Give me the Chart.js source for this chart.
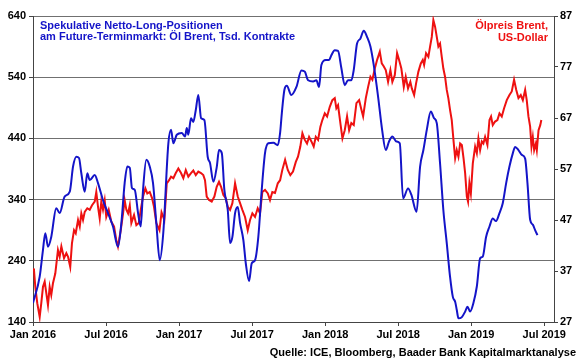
<!DOCTYPE html>
<html>
<head>
<meta charset="utf-8">
<script src="https://cdn.jsdelivr.net/npm/chart.js@4.4.1/dist/chart.umd.min.js"></script>
<style>
  html, body { margin: 0; padding: 0; background: #fff; }
  #wrap { width: 580px; height: 359px; }
</style>
</head>
<body>
<div id="wrap"><canvas id="chart" width="580" height="359"></canvas></div>
<script>
// x values are months since Jan 2016
var xTickMonths = [0, 6, 12, 18, 24, 30, 36, 42];
var xTickLabels = ["Jan 2016", "Jul 2016", "Jan 2017", "Jul 2017", "Jan 2018", "Jul 2018", "Jan 2019", "Jul 2019"];

// Spekulative Netto-Long-Positionen, Tsd. Kontrakte (left axis)
var blueMonths = [
  0.00, 0.55, 0.82, 1.01, 1.23, 1.50, 1.91, 2.19, 2.60, 3.02, 3.29, 3.56, 3.78, 3.97, 4.25, 4.46, 4.66, 5.07,
  5.34, 5.75, 6.16, 6.57, 6.98, 7.26, 7.53, 7.75, 7.95, 8.13, 8.36, 8.63, 8.85, 9.04, 9.31, 9.59, 9.86, 10.13,
  10.41, 10.70, 11.12, 11.34, 11.53, 11.81, 12.22, 12.49, 12.63, 12.76, 12.98, 13.17, 13.37, 13.58, 13.81, 14.08,
  14.35, 14.54, 14.82, 15.10, 15.28, 15.51, 15.72, 16.00, 16.19, 16.38, 16.60, 16.82, 17.01, 17.28, 17.48, 17.75,
  17.97, 18.24, 18.51, 18.79, 19.06, 19.33, 19.75, 20.11, 20.30, 20.44, 20.65, 20.85, 21.22, 21.64, 22.05, 22.33,
  22.60, 23.01, 23.28, 23.50, 23.69, 24.05, 24.32, 24.51, 24.79, 25.06, 25.33, 25.61, 25.88, 26.15, 26.35, 26.62,
  26.89, 27.17, 27.44, 27.72, 27.99, 28.35, 28.68, 28.98, 29.25, 29.52, 29.85, 30.13, 30.40, 30.81, 31.08, 31.51,
  31.80, 32.07, 32.35, 32.68, 32.95, 33.17, 33.44, 33.71, 33.99, 34.26, 34.49, 34.68, 34.81, 34.95, 35.23, 35.50,
  35.69, 35.91, 36.18, 36.46, 36.73, 36.95, 37.22, 37.50, 37.77, 38.04, 38.32, 38.59, 38.87, 39.14, 39.42, 39.61,
  39.88, 40.16, 40.43, 40.62, 40.84, 41.06, 41.25, 41.44
];
var bluePositions = [
  171, 214, 258, 285, 263, 279, 326, 318, 345, 353, 394, 410, 408, 383, 353, 383, 372, 380,
  367, 339, 318, 296, 263, 302, 367, 394, 392, 359, 356, 318, 296, 356, 405, 394, 367, 302,
  241, 285, 432, 454, 432, 446, 449, 443, 457, 446, 473, 467, 486, 511, 473, 470,
  410, 400, 369, 394, 421, 416, 356, 323, 269, 279, 318, 328, 302, 274, 236, 207,
  236, 241, 279, 356, 416, 432, 433, 429, 449, 481, 519, 526, 511, 524, 551, 549,
  535, 533, 535, 524, 560, 568, 568, 576, 584, 583, 555, 527, 535, 535, 552, 595,
  603, 616, 606, 590, 560, 508, 454, 421, 435, 443, 435, 432, 342, 358, 348, 320,
  394, 421, 454, 484, 473, 465, 399, 323, 269, 214, 181, 173, 160, 146, 148, 157,
  165, 157, 171, 198, 244, 247, 279, 296, 309, 305, 318, 334, 367, 394, 416, 426,
  421, 413, 407, 367, 307, 299, 290, 282
];

// Ölpreis Brent, US-Dollar (right axis)
var redMonths = [
  0.00, 0.08, 0.19, 0.35, 0.55, 0.68, 0.82, 0.96, 1.09, 1.23, 1.37, 1.50, 1.64, 1.83, 2.05, 2.19, 2.33, 2.55,
  2.74, 2.88, 3.06, 3.20, 3.37, 3.51, 3.70, 3.84, 3.97, 4.11, 4.25, 4.46, 4.66, 4.85, 5.07, 5.20, 5.34, 5.48,
  5.61, 5.75, 5.89, 6.02, 6.22, 6.43, 6.66, 6.84, 6.98, 7.21, 7.40, 7.53, 7.67, 7.81, 7.95, 8.08, 8.30, 8.49,
  8.69, 8.85, 9.04, 9.23, 9.39, 9.59, 9.78, 9.94, 10.13, 10.39, 10.56, 10.79, 10.99, 11.18, 11.34, 11.53, 11.73,
  11.94, 12.16, 12.35, 12.55, 12.76, 12.98, 13.17, 13.37, 13.58, 13.80, 13.99, 14.13, 14.27, 14.46, 14.68, 14.90,
  15.09, 15.28, 15.45, 15.64, 15.83, 16.00, 16.19, 16.38, 16.60, 16.82, 17.01, 17.20, 17.42, 17.64, 17.83, 18.02,
  18.24, 18.46, 18.65, 18.84, 19.06, 19.29, 19.47, 19.66, 19.88, 20.11, 20.30, 20.48, 20.71, 20.93, 21.14, 21.36,
  21.59, 21.77, 21.96, 22.13, 22.33, 22.51, 22.68, 22.87, 23.06, 23.23, 23.42, 23.61, 23.77, 23.97, 24.16, 24.38,
  24.59, 24.79, 24.92, 25.06, 25.25, 25.42, 25.61, 25.80, 25.97, 26.15, 26.35, 26.57, 26.79, 26.98, 27.12, 27.34,
  27.53, 27.72, 27.88, 28.08, 28.27, 28.49, 28.65, 28.82, 28.98, 29.17, 29.36, 29.52, 29.72, 29.91, 30.07, 30.26,
  30.46, 30.62, 30.81, 31.00, 31.12, 31.31, 31.47, 31.66, 31.86, 32.02, 32.13, 32.29, 32.48, 32.62, 32.76, 32.89,
  33.03, 33.17, 33.30, 33.44, 33.58, 33.71, 33.85, 33.99, 34.12, 34.26, 34.40, 34.54, 34.68, 34.81, 34.95, 35.09,
  35.23, 35.37, 35.50, 35.64, 35.74, 35.85, 35.97, 36.13, 36.32, 36.46, 36.59, 36.73, 36.87, 37.00, 37.14, 37.33,
  37.50, 37.63, 37.77, 37.96, 38.15, 38.32, 38.51, 38.70, 38.92, 39.14, 39.33, 39.52, 39.70, 39.88, 40.07, 40.24,
  40.43, 40.56, 40.70, 40.84, 40.95, 41.06, 41.17, 41.31, 41.39, 41.53, 41.67, 41.76
];
var redPrice = [
  37.5, 37.2, 33.9, 30.7, 28.0, 30.7, 33.9, 34.9, 32.7, 30.3, 33.9, 32.3, 34.6, 36.5, 41.1, 39.8, 41.8, 39.5,
  40.5, 39.8, 37.8, 42.4, 45.0, 44.4, 47.0, 45.7, 48.3, 47.0, 48.6, 49.3, 49.0, 49.9, 50.6, 52.5, 49.6, 47.3,
  50.6, 49.0, 50.9, 47.6, 49.0, 46.7, 45.7, 43.1, 41.8, 45.0, 48.3, 50.9, 49.0, 48.3, 49.9, 46.4, 48.0, 46.0,
  46.4, 49.0, 51.6, 53.2, 52.2, 52.5, 51.3, 49.6, 46.4, 45.0, 48.5, 47.0, 54.2, 54.8, 55.5, 55.2, 56.2,
  57.1, 56.2, 55.2, 56.8, 55.5, 56.2, 56.7, 55.8, 56.5, 56.2, 55.8, 54.8, 51.6, 50.9, 50.6, 51.6,
  53.5, 54.5, 53.5, 51.9, 51.3, 49.6, 49.0, 50.3, 54.2, 51.6, 50.3, 49.0, 47.6, 45.0, 47.0, 48.3,
  47.6, 49.3, 48.3, 52.5, 52.9, 52.2, 50.9, 52.5, 52.3, 54.2, 54.8, 56.8, 58.8, 56.8, 55.8, 56.5,
  58.4, 59.4, 61.4, 64.0, 62.7, 62.0, 63.3, 62.4, 61.4, 63.3, 62.7, 65.3, 66.6, 67.9, 67.3, 69.2,
  70.5, 70.9, 68.9, 69.5, 66.0, 63.0, 64.6, 67.3, 64.6, 66.0, 65.6, 69.9, 70.5, 68.6, 67.3, 70.9,
  73.1, 75.1, 74.5, 76.7, 78.4, 80.0, 77.7, 77.1, 76.4, 74.1, 76.4, 74.1, 75.4, 79.7, 78.4, 76.7,
  73.1, 75.1, 72.8, 74.1, 72.8, 71.5, 73.8, 76.1, 77.7, 78.4, 77.4, 79.7, 79.0, 81.0, 82.9, 86.2,
  84.9, 82.9, 81.0, 81.6, 79.0, 76.7, 75.1, 72.5, 70.9, 68.6, 66.6, 62.7, 59.1, 60.7, 59.4, 62.0,
  61.7, 59.1, 56.2, 51.6, 50.6, 54.2, 52.2, 58.1, 61.4, 60.1, 63.0, 60.7, 62.4, 62.0, 63.3, 61.7,
  66.6, 67.3, 65.6, 66.3, 66.6, 67.9, 67.3, 68.9, 70.5, 71.5, 72.2, 74.5, 72.5, 70.9, 71.5, 70.5,
  72.5, 70.5, 67.3, 65.3, 61.4, 63.3, 60.7, 62.0, 60.7, 64.6, 65.6, 66.6
];

var blueTitle = ["Spekulative Netto-Long-Positionen", "am Future-Terminmarkt: Öl Brent, Tsd. Kontrakte"];
var redTitle = ["Ölpreis Brent,", "US-Dollar"];
var sourceText = "Quelle: ICE, Bloomberg, Baader Bank Kapitalmarktanalyse";

var BLUE = "#1414c8";
var RED = "#ee1111";
var FONT = "'Liberation Sans', Arial, sans-serif";

function toPoints(xs, ys) {
  return xs.map(function (x, i) { return { x: x, y: ys[i] }; });
}

var textPlugin = {
  id: "chartTexts",
  afterDraw: function (chart) {
    var ctx = chart.ctx;
    var area = chart.chartArea;
    ctx.save();
    ctx.font = "bold 11px " + FONT;
    ctx.textBaseline = "alphabetic";
    ctx.fillStyle = BLUE;
    ctx.textAlign = "left";
    ctx.fillText(blueTitle[0], area.left + 7, area.top + 13, 214);
    ctx.fillText(blueTitle[1], area.left + 7, area.top + 24, 268);
    ctx.fillStyle = RED;
    ctx.textAlign = "right";
    ctx.fillText(redTitle[0], area.right - 6, area.top + 13);
    ctx.fillText(redTitle[1], area.right - 6, area.top + 25);
    ctx.fillStyle = "#000";
    ctx.fillText(sourceText, 576, 356, 313);
    ctx.restore();
  }
};

var tickFont = { family: FONT, size: 11, weight: "bold" };

new Chart(document.getElementById("chart"), {
  type: "line",
  data: {
    datasets: [
      {
        label: "Netto-Long-Positionen",
        data: toPoints(blueMonths, bluePositions),
        borderColor: BLUE,
        borderWidth: 2,
        pointRadius: 0,
        cubicInterpolationMode: "monotone",
        yAxisID: "y"
      },
      {
        label: "Ölpreis Brent",
        data: toPoints(redMonths, redPrice),
        borderColor: RED,
        borderWidth: 2,
        pointRadius: 0,
        tension: 0,
        yAxisID: "y2"
      }
    ]
  },
  options: {
    responsive: false,
    animation: false,
    layout: { padding: { top: 16, right: 0, left: 0, bottom: 0 } },
    plugins: { legend: { display: false }, tooltip: { enabled: false } },
    scales: {
      x: {
        type: "linear",
        min: 0,
        max: 42.8,
        afterBuildTicks: function (scale) {
          scale.ticks = xTickMonths.map(function (v) { return { value: v }; });
        },
        afterFit: function (scale) { scale.height = 37; },
        ticks: {
          autoSkip: false,
          maxRotation: 0,
          padding: 2,
          color: "#000",
          font: tickFont,
          callback: function (v) {
            var i = xTickMonths.indexOf(v);
            return i >= 0 ? xTickLabels[i] : "";
          }
        },
        grid: { drawOnChartArea: false, drawTicks: true, tickLength: 4, color: "#444" },
        border: { color: "#444", width: 1 }
      },
      y: {
        position: "left",
        min: 140,
        max: 640,
        afterFit: function (scale) { scale.width = 33; },
        ticks: { stepSize: 100, padding: 3, color: "#000", font: tickFont },
        grid: { color: "#707070", tickLength: 4, tickColor: "#444" },
        border: { color: "#444", width: 1 }
      },
      y2: {
        position: "right",
        min: 27,
        max: 87,
        afterFit: function (scale) { scale.width = 26; },
        ticks: { stepSize: 10, padding: 2, color: "#000", font: tickFont },
        grid: { drawOnChartArea: false, tickLength: 4, color: "#444" },
        border: { color: "#444", width: 1 }
      }
    }
  },
  plugins: [textPlugin]
});
</script>
</body>
</html>
